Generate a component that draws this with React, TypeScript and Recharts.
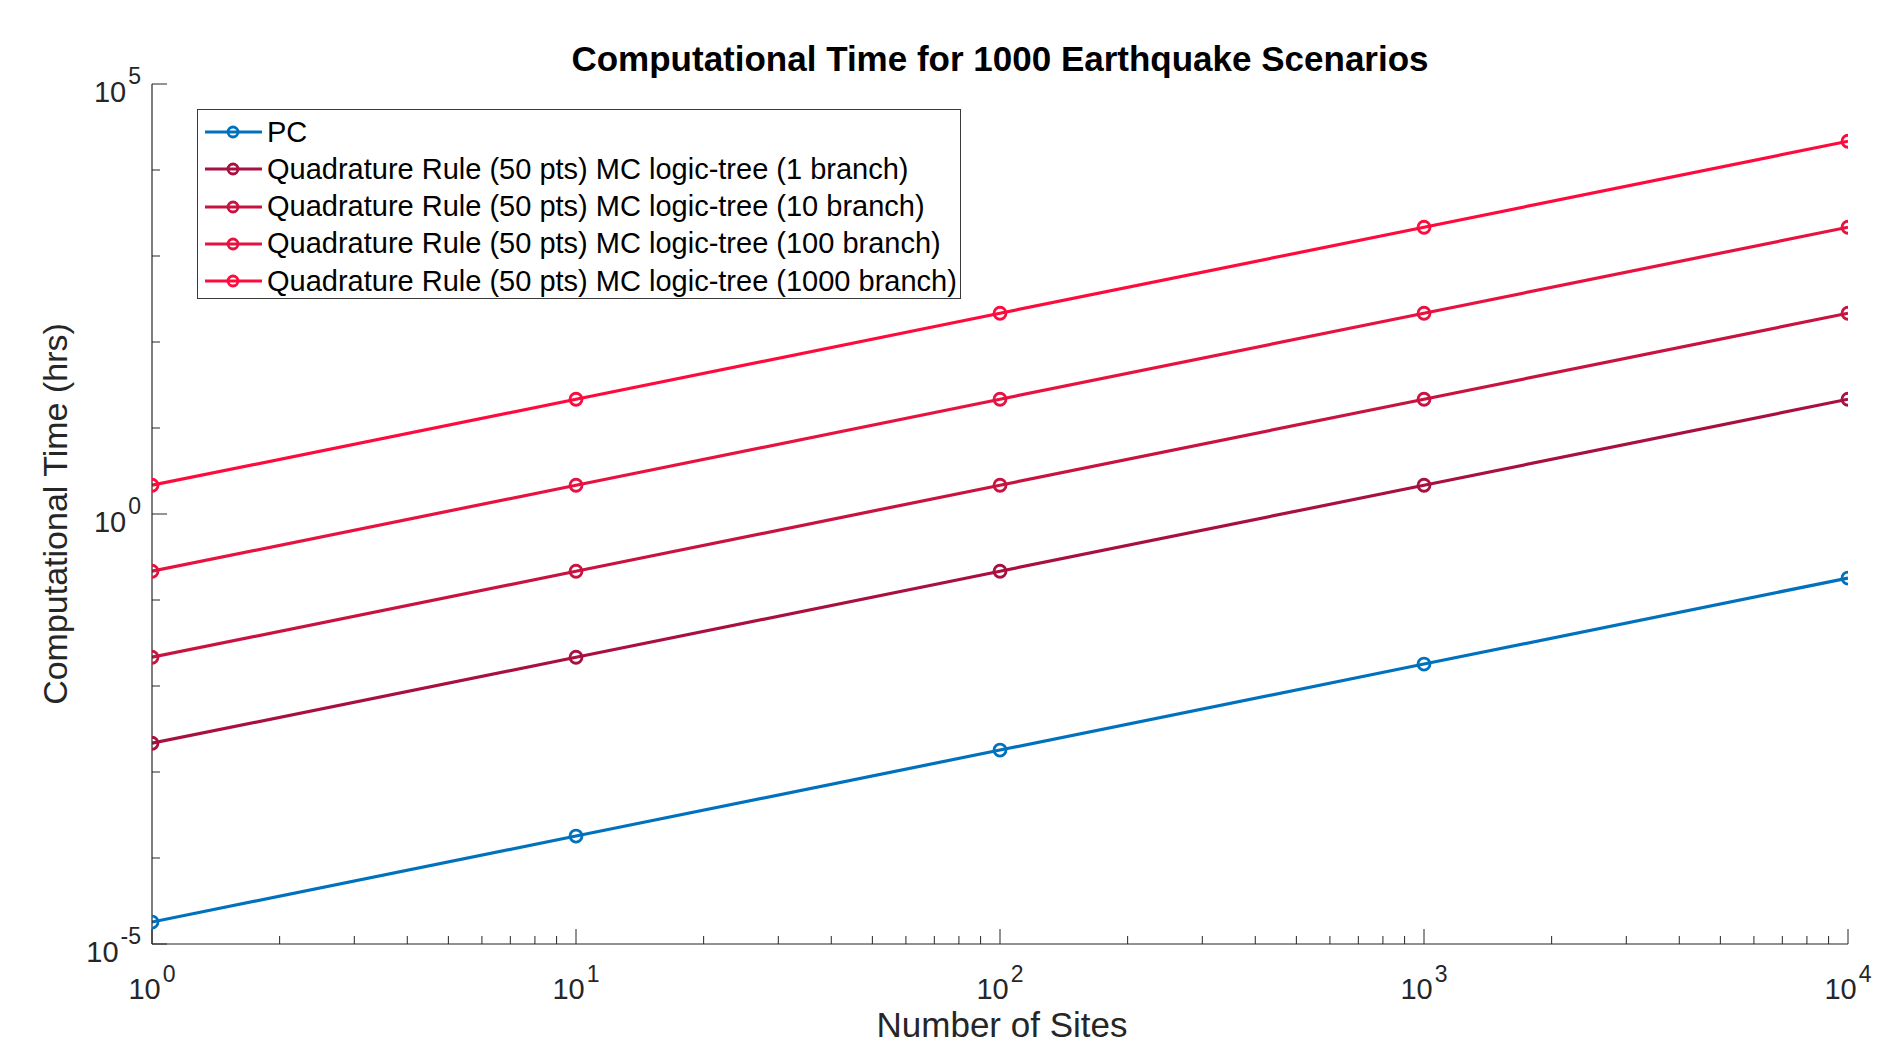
import { LineChart, Line, XAxis, YAxis } from "recharts";

// number of sites (x) and computational time in hours (y)
const SITES = [1, 10, 100, 1000, 10000];
const PC = [1.8e-5, 1.8e-4, 1.8e-3, 1.8e-2, 0.18];
const QR_1 = [0.00216, 0.0216, 0.216, 2.16, 21.6];
const QR_10 = [0.0216, 0.216, 2.16, 21.6, 216];
const QR_100 = [0.216, 2.16, 21.6, 216, 2160];
const QR_1000 = [2.16, 21.6, 216, 2160, 21600];

const X_DECADES = [1, 10, 100, 1000, 10000];
const Y_DECADES = [1e-5, 1e-4, 1e-3, 1e-2, 1e-1, 1, 10, 100, 1000, 1e4, 1e5];
const Y_LABELLED = [-5, 0, 5];

const SERIES = [
  { key: "pc", name: "PC", color: "#0072BD", values: PC },
  { key: "qr1", name: "Quadrature Rule (50 pts) MC logic-tree (1 branch)", color: "#A8103F", values: QR_1 },
  { key: "qr10", name: "Quadrature Rule (50 pts) MC logic-tree (10 branch)", color: "#C8123F", values: QR_10 },
  { key: "qr100", name: "Quadrature Rule (50 pts) MC logic-tree (100 branch)", color: "#E6123F", values: QR_100 },
  { key: "qr1000", name: "Quadrature Rule (50 pts) MC logic-tree (1000 branch)", color: "#FF0A3C", values: QR_1000 },
];

const data = SITES.map((sites, i) => {
  const row: Record<string, number> = { sites };
  SERIES.forEach((s) => (row[s.key] = s.values[i]));
  return row;
});

// minor ticks 2..9 within each decade
const X_TICKS: number[] = [];
X_DECADES.forEach((d, i) => {
  X_TICKS.push(d);
  if (i < X_DECADES.length - 1) {
    for (let m = 2; m <= 9; m++) X_TICKS.push(d * m);
  }
});

const AXIS = "#262626";
const FONT = "'Liberation Sans', Arial, Helvetica, sans-serif";
const W = 1884;
const H = 1045;

const exp10 = (v: number) => Math.round(Math.log10(v));
const isDecade = (v: number) => Math.abs(Math.log10(v) - exp10(v)) < 1e-6;

function XTick(props: any) {
  const { x, y, payload, side } = props;
  const v = payload.value;
  const major = isDecade(v);
  const len = major ? 15 : 8;
  const dir = side === "bottom" ? -1 : 1;
  return (
    <g>
      <line x1={x} x2={x} y1={y} y2={y + dir * len} stroke={AXIS} strokeWidth={1} />
      {major && side === "bottom" && (
        <text x={x} y={y + 55} textAnchor="middle" fontSize={29} fill={AXIS} fontFamily={FONT}>
          10
          <tspan dx={2} dy={-17} fontSize={23}>
            {exp10(v)}
          </tspan>
        </text>
      )}
    </g>
  );
}

function YTick(props: any) {
  const { x, y, payload, side } = props;
  const e = exp10(payload.value);
  const labelled = Y_LABELLED.includes(e);
  const len = labelled ? 15 : 8;
  const dir = side === "left" ? 1 : -1;
  return (
    <g>
      <line x1={x} x2={x + dir * len} y1={y} y2={y} stroke={AXIS} strokeWidth={1} />
      {labelled && side === "left" && (
        <text x={x - 11} y={y + 18} textAnchor="end" fontSize={29} fill={AXIS} fontFamily={FONT}>
          10
          <tspan dx={2} dy={-18} fontSize={23}>
            {e}
          </tspan>
        </text>
      )}
    </g>
  );
}

function LegendBox() {
  return (
    <div
      style={{
        position: "absolute",
        left: 197,
        top: 109,
        width: 764,
        height: 190,
        boxSizing: "border-box",
        border: "1.2px solid #3a3a3a",
        background: "#fff",
        fontFamily: FONT,
        fontSize: 29,
        color: "#000",
      }}
    >
      {SERIES.map((s, i) => (
        <div
          key={s.key}
          style={{
            position: "absolute",
            left: 0,
            top: 22 + i * 37.25 - 18,
            height: 36,
            display: "flex",
            alignItems: "center",
            whiteSpace: "nowrap",
          }}
        >
          <svg width={68} height={36} style={{ display: "block" }}>
            <line x1={7} x2={64} y1={18} y2={18} stroke={s.color} strokeWidth={3.2} />
            <circle cx={35} cy={18} r={5} fill="none" stroke={s.color} strokeWidth={2.8} />
          </svg>
          <span style={{ marginLeft: 1 }}>{s.name}</span>
        </div>
      ))}
    </div>
  );
}

export default function App() {
  return (
    <div style={{ position: "absolute", left: 0, top: 0, width: W, height: H, background: "#fff" }}>
      <LineChart
        width={W}
        height={H}
        data={data}
        margin={{ top: 84, right: 36, bottom: 0, left: 0 }}
      >
        <XAxis
          dataKey="sites"
          type="number"
          scale="log"
          domain={[1, 10000]}
          ticks={X_TICKS}
          interval={0}
          height={101}
          tickSize={0}
          tickMargin={0}
          allowDataOverflow
          axisLine={{ stroke: AXIS, strokeWidth: 1.2 }}
          tick={(p: any) => <XTick {...p} side="bottom" />}
        />
        <XAxis
          xAxisId="top"
          orientation="top"
          dataKey="sites"
          type="number"
          scale="log"
          domain={[1, 10000]}
          ticks={X_TICKS}
          interval={0}
          height={0}
          tickSize={0}
          tickMargin={0}
          allowDataOverflow
          axisLine={{ stroke: AXIS, strokeWidth: 1.2 }}
          tick={(p: any) => <XTick {...p} side="top" />}
        />
        <YAxis
          type="number"
          scale="log"
          domain={[1e-5, 1e5]}
          ticks={Y_DECADES}
          interval={0}
          width={152}
          tickSize={0}
          tickMargin={0}
          allowDataOverflow
          axisLine={{ stroke: AXIS, strokeWidth: 1.2 }}
          tick={(p: any) => <YTick {...p} side="left" />}
        />
        <YAxis
          yAxisId="right"
          orientation="right"
          type="number"
          scale="log"
          domain={[1e-5, 1e5]}
          ticks={Y_DECADES}
          interval={0}
          width={0}
          tickSize={0}
          tickMargin={0}
          allowDataOverflow
          axisLine={{ stroke: AXIS, strokeWidth: 1.2 }}
          tick={(p: any) => <YTick {...p} side="right" />}
        />
        {SERIES.map((s) => (
          <Line
            key={s.key}
            type="linear"
            dataKey={s.key}
            name={s.name}
            stroke={s.color}
            strokeWidth={3.2}
            dot={{ r: 6, stroke: s.color, strokeWidth: 2.8, fill: "none" }}
            activeDot={false}
            isAnimationActive={false}
          />
        ))}
      </LineChart>

      <svg
        width={W}
        height={H}
        style={{ position: "absolute", left: 0, top: 0, pointerEvents: "none" }}
      >
        <text x={1000} y={71} textAnchor="middle" fontSize={35} fontWeight="bold" fill="#000" fontFamily={FONT}>
          Computational Time for 1000 Earthquake Scenarios
        </text>
        <text x={1002} y={1037} textAnchor="middle" fontSize={35} fill={AXIS} fontFamily={FONT}>
          Number of Sites
        </text>
        <text
          x={67}
          y={514}
          textAnchor="middle"
          fontSize={34}
          fill={AXIS}
          fontFamily={FONT}
          transform="rotate(-90 67 514)"
        >
          Computational Time (hrs)
        </text>
      </svg>

      <LegendBox />
    </div>
  );
}
